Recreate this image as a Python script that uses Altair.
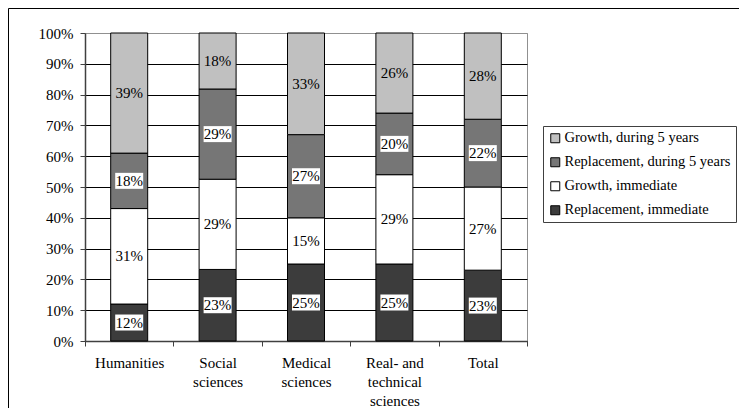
import json
import altair as alt
import pandas as pd

# ---- data ----
categories = ["Humanities", "Social sciences", "Medical sciences",
              "Real- and technical sciences", "Total"]
tick_lines = [["Humanities"], ["Social", "sciences"], ["Medical", "sciences"],
              ["Real- and", "technical", "sciences"], ["Total"]]

# stacking order, bottom to top
series_stack = ["Replacement, immediate", "Growth, immediate",
                "Replacement, during 5 years", "Growth, during 5 years"]
replacement_immediate = [12, 23, 25, 25, 23]
growth_immediate = [31, 29, 15, 29, 27]
replacement_5y = [18, 29, 27, 20, 22]
growth_5y = [39, 18, 33, 26, 28]
values = [replacement_immediate, growth_immediate, replacement_5y, growth_5y]

legend_order = ["Growth, during 5 years", "Replacement, during 5 years",
                "Growth, immediate", "Replacement, immediate"]
legend_colors = ["#C0C0C0", "#767676", "#FFFFFF", "#3C3C3C"]
y_ticks = [i / 10 for i in range(11)]

rows = []
for ci, cat in enumerate(categories):
    total = sum(v[ci] for v in values)
    cum = 0
    for si, s in enumerate(series_stack):
        v = values[si][ci]
        y0 = cum / total
        y1 = (cum + v) / total
        rows.append({"category": cat, "series": s, "value": v,
                     "y0": y0, "y1": y1, "mid": (y0 + y1) / 2,
                     "label": f"{v}%"})
        cum += v
df = pd.DataFrame(rows)

label_expr = ""
for cat, lines in zip(categories, tick_lines):
    label_expr += f"datum.label === {json.dumps(cat)} ? {json.dumps(lines)} : "
label_expr += "datum.label"

FONT = "Liberation Serif"

x_scale = alt.Scale(paddingInner=0, paddingOuter=0)
x_axis = alt.Axis(title=None, labelExpr=label_expr, tickBand="extent",
                  labelAngle=0, labelLineHeight=19, labelPadding=9,
                  tickSize=5, grid=False, labelFontSize=15,
                  labelColor="black", labelFont=FONT,
                  domainColor="#404040", tickColor="#404040",
                  domainWidth=1.5, labelOverlap=False)
y_scale = alt.Scale(domain=[0, 1], nice=False)
y_axis = alt.Axis(title=None, values=y_ticks, format=".0%", tickSize=5,
                  labelPadding=7, labelFontSize=15, labelColor="black",
                  labelFont=FONT, domainColor="#404040", tickColor="#404040",
                  domainWidth=1.5, labelOverlap=False,
                  gridColor={"condition": {"test": "datum.value === 1", "value": "#909090"},
                             "value": "#000000"},
                  gridWidth=1)


def xe():
    return alt.X("category:N", sort=categories, scale=x_scale, axis=x_axis)


def ye(field):
    return alt.Y(field, scale=y_scale, axis=y_axis)


base = alt.Chart(df)

bars = base.mark_bar(width=37, stroke="#000000", strokeWidth=1).encode(
    x=xe(),
    y=ye("y0:Q"),
    y2="y1:Q",
    color=alt.Color("series:N",
                    scale=alt.Scale(domain=legend_order, range=legend_colors),
                    legend=alt.Legend(title=None, orient="none", legendX=458,
                                      legendY=93, labelFont=FONT, labelFontSize=14.5,
                                      labelColor="black", symbolType="square",
                                      symbolSize=81, symbolStrokeColor="black",
                                      symbolStrokeWidth=1, rowPadding=9,
                                      padding=5, strokeColor="#404040",
                                      fillColor="white", labelOffset=2,
                                      labelLimit=400)),
)

boxes = base.transform_filter(
    alt.datum.series != "Growth, during 5 years"
).mark_point(shape="M-1.75,-1L1.75,-1L1.75,1L-1.75,1Z", size=256, filled=True,
             fill="white", opacity=1, strokeWidth=0).encode(
    x=xe(),
    y=ye("mid:Q"),
)

texts = base.mark_text(font=FONT, fontSize=15, color="black",
                       baseline="middle").encode(
    x=xe(),
    y=ye("mid:Q"),
    text="label:N",
)

one = pd.DataFrame({"a": [0]})
left_border = alt.Chart(one).mark_rule(color="#000000", strokeWidth=1).encode(
    x=alt.value(-76.5), y=alt.value(-24.5), y2=alt.value(380))
top_border = alt.Chart(one).mark_rule(color="#000000", strokeWidth=1).encode(
    x=alt.value(-76.5), x2=alt.value(660), y=alt.value(-24.5))

chart = alt.layer(bars, boxes, texts, left_border, top_border).properties(
    width=442, height=308,
    padding={"left": 77, "top": 25, "right": 212, "bottom": 67},
    autosize=alt.AutoSizeParams(type="none"),
).configure(font=FONT).configure_view(stroke="#909090", strokeWidth=1)

chart.save("out.html", embed_options={"renderer": "svg", "actions": False})
